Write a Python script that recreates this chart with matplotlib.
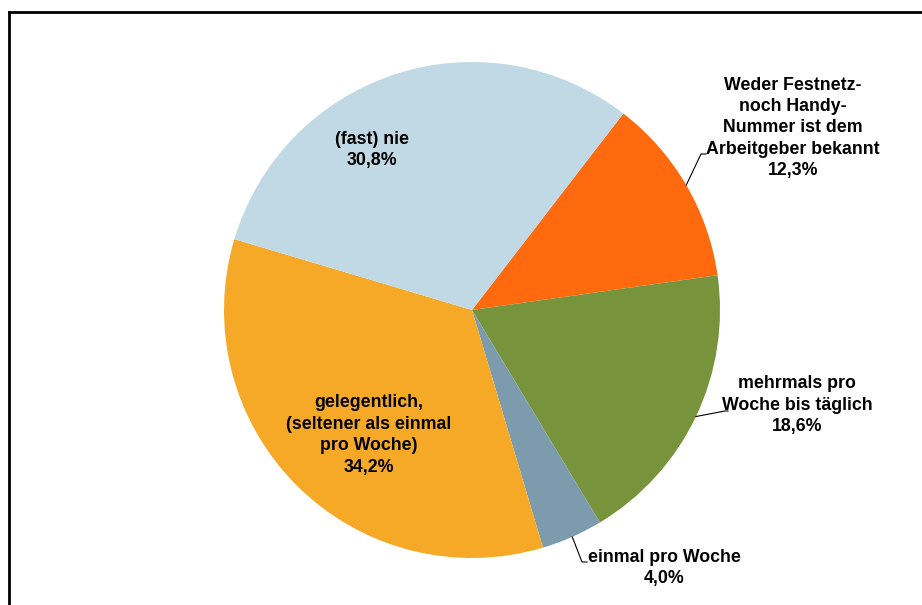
import numpy as np
import matplotlib
matplotlib.use("Agg")
from matplotlib import pyplot as plt

plt.rcParams['font.family'] = ['Liberation Sans', 'DejaVu Sans']

# clockwise, starting from the orange slice
labels = ['Weder Festnetz-\nnoch Handy-\nNummer ist dem\nArbeitgeber bekannt',
          'mehrmals pro\nWoche bis täglich',
          'einmal pro Woche',
          'gelegentlich,\n(seltener als einmal\npro Woche)',
          '(fast) nie']
values = [12.3, 18.6, 4.0, 34.2, 30.8]
colors = ['#FF6A0E', '#77933C', '#7C9BAD', '#F5A927', '#C1D9E4']

# label centres (pixels, y up) and leader knees (None = label inside slice)
label_pos = [(793, 477), (797, 200), (664, 37), (369, 170), (372, 455)]
knees = [(701, 451, 706), (725, 194, 728), (582, 43, 587), None, None]

center = (472, 295)
radius = 248
start = 52.4

fig = plt.figure(figsize=(9.22, 6.05), dpi=100)
ax = fig.add_axes([0, 0, 1, 1])

wedges, _ = ax.pie(values, colors=colors, startangle=start, counterclock=False,
                   center=center, radius=radius, frame=True,
                   wedgeprops=dict(linewidth=0))
ax.set_xlim(0, 922)
ax.set_ylim(0, 605)
ax.set_aspect('equal')
ax.axis('off')

for w, lab, v, pos, kn in zip(wedges, labels, values, label_pos, knees):
    txt = lab + '\n' + ('%.1f%%' % v).replace('.', ',')
    ax.text(pos[0], pos[1], txt, ha='center', va='center', fontsize=12.8,
            fontweight='bold', linespacing=1.34, color='black')
    if kn is not None:
        mid = np.deg2rad((w.theta1 + w.theta2) / 2)
        px = center[0] + radius * np.cos(mid)
        py = center[1] + radius * np.sin(mid)
        ax.plot([px, kn[0], kn[2]], [py, kn[1], kn[1]], color='black', lw=0.8)

# outer frame (only left and top edges visible)
ax.plot([9, 9], [-5, 593], color='black', lw=2, solid_capstyle='projecting')
ax.plot([9, 930], [593, 593], color='black', lw=2, solid_capstyle='projecting')

fig.savefig('out.png', dpi=100)
